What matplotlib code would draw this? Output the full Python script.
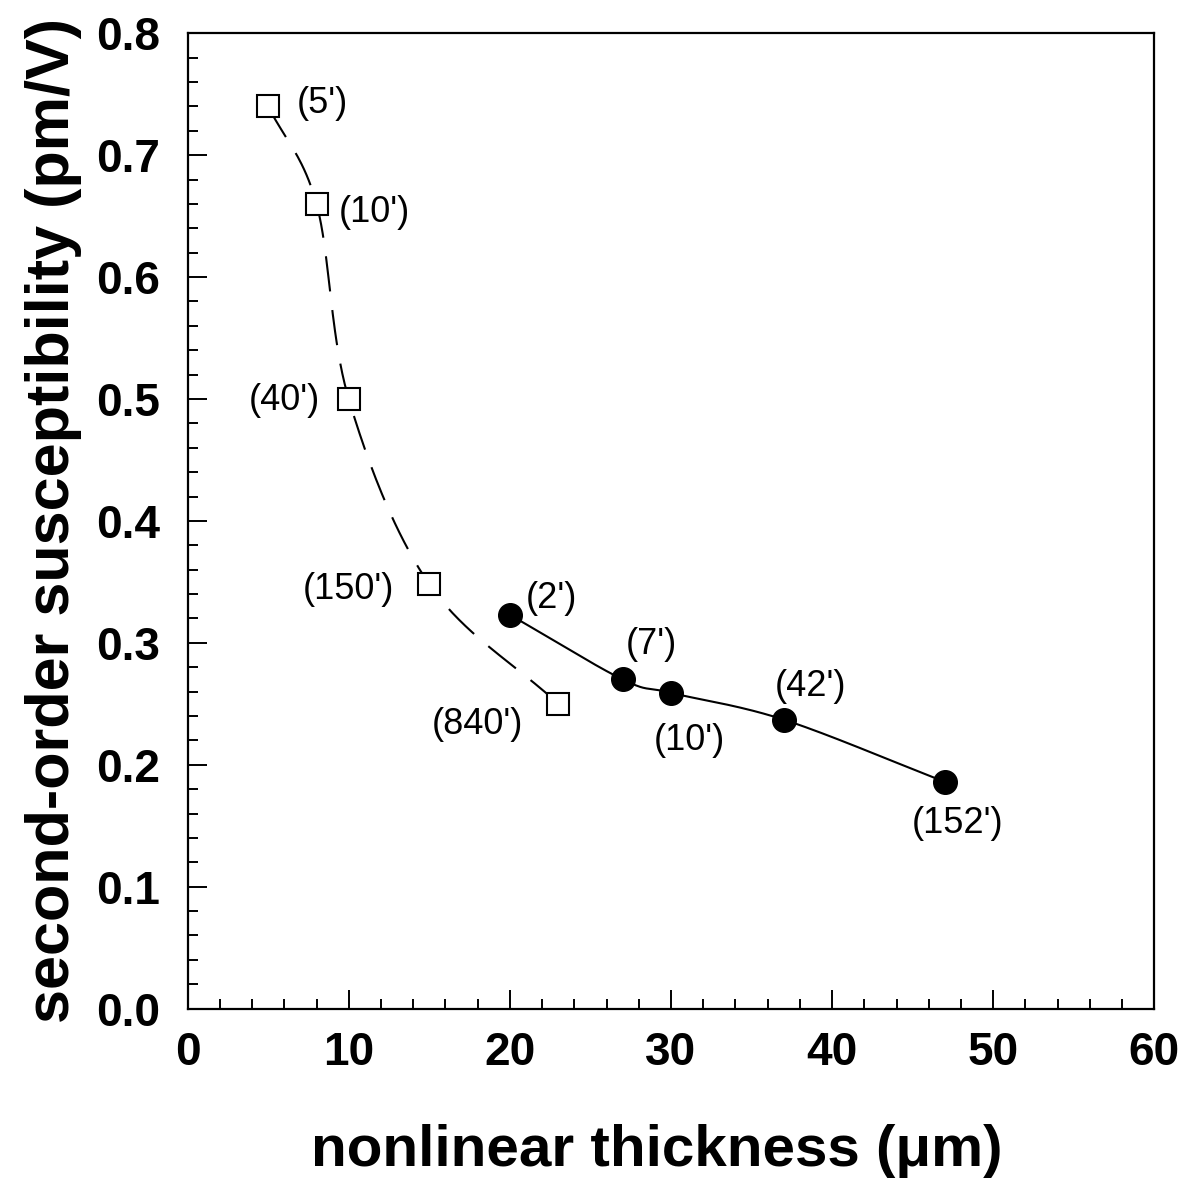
import numpy as np
import matplotlib.pyplot as plt
from matplotlib.ticker import MultipleLocator

# open squares (dashed curve)
sq_x = [5, 8, 10, 15, 23]
sq_y = [0.74, 0.66, 0.50, 0.348, 0.25]
sq_lab = ["(5')", "(10')", "(40')", "(150')", "(840')"]

# filled circles (solid curve)
ci_x = [20, 27, 30, 37, 47]
ci_y = [0.323, 0.270, 0.259, 0.237, 0.186]
ci_lab = ["(2')", "(7')", "(10')", "(42')", "(152')"]

# label offsets in points
sq_off = [(39, 2), (42, -6), (-46, -1), (-58, -4), (-58, -15)]
ci_off = [(30, 12), (21, 25), (13, -34), (19, 24), (9, -30)]


def smooth(x, y, n=40):
    # parametric Catmull-Rom through the points, in axis-normalised units
    p = np.column_stack([np.array(x) / 60.0, np.array(y) / 0.8])
    p = np.vstack([2 * p[0] - p[1], p, 2 * p[-1] - p[-2]])
    out = []
    for i in range(1, len(p) - 2):
        p0, p1, p2, p3 = p[i - 1], p[i], p[i + 1], p[i + 2]
        t = np.linspace(0, 1, n)[:, None]
        seg = 0.5 * (2 * p1 + (-p0 + p2) * t + (2 * p0 - 5 * p1 + 4 * p2 - p3) * t ** 2
                     + (-p0 + 3 * p1 - 3 * p2 + p3) * t ** 3)
        out.append(seg)
    out = np.vstack(out)
    return out[:, 0] * 60.0, out[:, 1] * 0.8


def main():
    plt.rcParams['font.family'] = ['Liberation Sans', 'DejaVu Sans']
    fig = plt.figure(figsize=(11.95, 11.88), dpi=100)
    ax = fig.add_axes([0.157, 0.151, 0.809, 0.821])

    sx, sy = smooth(sq_x, sq_y)
    ax.plot(sx, sy, color='black', lw=1.5, dashes=(17, 9))
    cx, cy = smooth(ci_x, ci_y)
    ax.plot(cx, cy, color='black', lw=1.5)

    ax.plot(sq_x, sq_y, 's', ms=16, mfc='white', mec='black', mew=1.5, ls='none')
    ax.plot(ci_x, ci_y, 'o', ms=17, mfc='black', mec='black', ls='none')

    for x, y, t, o in zip(sq_x, sq_y, sq_lab, sq_off):
        ax.annotate(t, (x, y), xytext=o, textcoords='offset points',
                    ha='center', va='center', fontsize=26)
    for x, y, t, o in zip(ci_x, ci_y, ci_lab, ci_off):
        ax.annotate(t, (x, y), xytext=o, textcoords='offset points',
                    ha='center', va='center', fontsize=26)

    ax.set_xlim(0, 60)
    ax.set_ylim(0, 0.8)
    ax.xaxis.set_major_locator(MultipleLocator(10))
    ax.xaxis.set_minor_locator(MultipleLocator(2))
    ax.yaxis.set_major_locator(MultipleLocator(0.1))
    ax.yaxis.set_minor_locator(MultipleLocator(0.02))
    ax.yaxis.set_major_formatter(plt.FormatStrFormatter('%.1f'))
    ax.tick_params(which='both', direction='in', top=False, right=False, width=1.4)
    ax.tick_params(which='major', length=14, labelsize=33)
    ax.tick_params(axis='x', which='major', pad=16)
    ax.tick_params(axis='y', which='major', pad=20)
    ax.tick_params(which='minor', length=7)
    for lab in ax.get_xticklabels() + ax.get_yticklabels():
        lab.set_fontweight('bold')
    for s in ax.spines.values():
        s.set_linewidth(1.6)

    ax.set_xlabel("nonlinear thickness (\u03bcm)", fontsize=42, fontweight='bold')
    ax.xaxis.set_label_coords(0.485, -0.118)
    ax.set_ylabel("second-order susceptibility (pm/V)", fontsize=44, fontweight='bold', labelpad=10)

    fig.savefig("out.png", dpi=100)


if __name__ == "__main__":
    main()
